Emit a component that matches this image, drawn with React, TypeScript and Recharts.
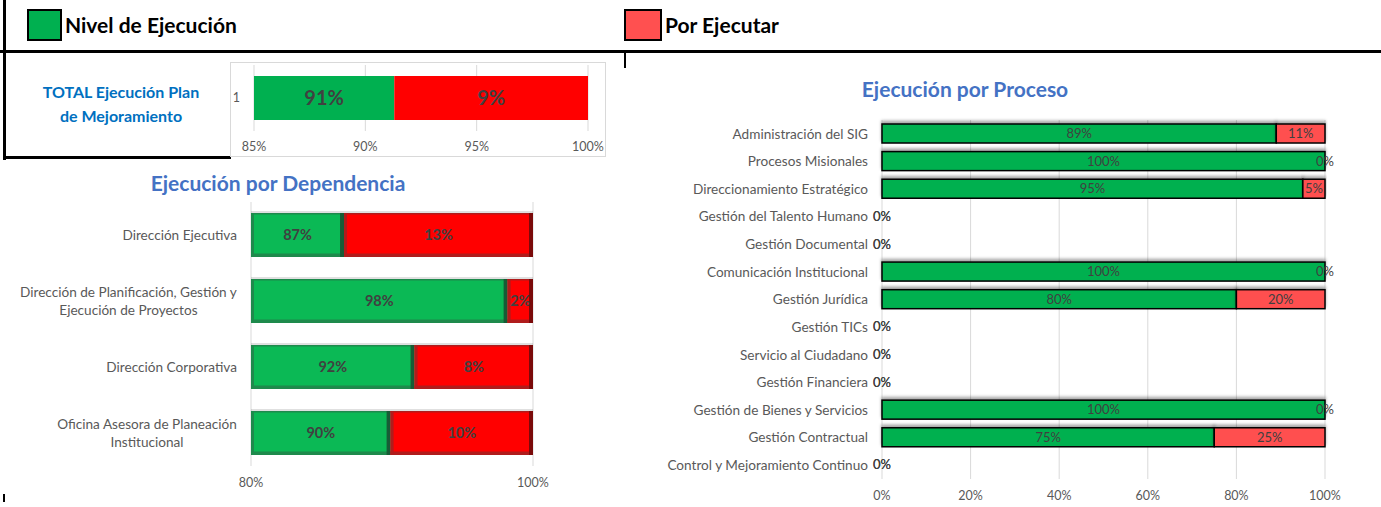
import React from 'react';
import { BarChart, Bar, XAxis, YAxis, CartesianGrid, LabelList } from 'recharts';

const FONT = 'Lato, "Open Sans", sans-serif';

// total plan
const totalCategory = ['1'];
const totalDone = [91.3];
const totalPending = [8.7];
const totalTicks = [85, 90, 95, 100];

// by dependency
const depCategories = [
  'Dirección Ejecutiva',
  'Dirección de Planificación, Gestión y Ejecución de Proyectos',
  'Dirección Corporativa',
  'Oficina Asesora de Planeación Institucional',
];
const depDone = [86.6, 98.2, 91.6, 89.9];
const depPending = [13.4, 1.8, 8.4, 10.1];
const depTicks = [80, 100];

// by process
const procCategories = [
  'Administración del SIG',
  'Procesos Misionales',
  'Direccionamiento Estratégico',
  'Gestión del Talento Humano',
  'Gestión Documental',
  'Comunicación Institucional',
  'Gestión Jurídica',
  'Gestión TICs',
  'Servicio al Ciudadano',
  'Gestión Financiera',
  'Gestión de Bienes y Servicios',
  'Gestión Contractual',
  'Control y Mejoramiento Continuo',
];
const procDone = [89, 100, 95, 0, 0, 100, 80, 0, 0, 0, 100, 75, 0];
const procPending = [11, 0, 5, 0, 0, 0, 20, 0, 0, 0, 0, 25, 0];
const procTicks = [0, 20, 40, 60, 80, 100];

const totalData = totalCategory.map((name, i) => ({ name, done: totalDone[i], pending: totalPending[i] }));
const depData = depCategories.map((name, i) => ({ name, done: depDone[i], pending: depPending[i] }));
const procData = procCategories.map((name, i) => ({ name, done: procDone[i], pending: procPending[i] }));

const pct = (v: number) => `${Math.round(v)}%`;

let ctx: CanvasRenderingContext2D | null = null;
const measure = (s: string, font: string) => {
  if (!ctx) ctx = document.createElement('canvas').getContext('2d');
  if (!ctx) return s.length * 6;
  ctx.font = font;
  return ctx.measureText(s).width;
};

const wrap = (s: string, max: number) => {
  const lines: string[] = [];
  let cur = '';
  s.split(' ').forEach((w) => {
    const next = cur ? cur + ' ' + w : w;
    if (next.length > max && cur) {
      lines.push(cur);
      cur = w;
    } else cur = next;
  });
  if (cur) lines.push(cur);
  return lines;
};

const CAT_SIZE = 13.6;

const DepTick = ({ x, y, payload }: any) => {
  const lines = wrap(payload.value, 37);
  const w = Math.max(...lines.map((l) => measure(l, `${CAT_SIZE}px ${FONT}`)));
  const cx = x - w / 2;
  const lh = 18;
  const y0 = y - ((lines.length - 1) * lh) / 2;
  return (
    <text textAnchor="middle" fill="#595959" fontSize={CAT_SIZE} fontFamily={FONT}>
      {lines.map((l, i) => (
        <tspan key={i} x={cx} y={y0 + i * lh} dy="0.35em">
          {l}
        </tspan>
      ))}
    </text>
  );
};

// centred label of the part of the bar that is inside the plot
const clampLabel = (minX: number, size: number, weight: string) => (props: any) => {
  const vb = props.viewBox ?? props;
  const { x, y, width, height } = vb;
  const left = Math.max(x, minX);
  const cx = (left + x + width) / 2;
  return (
    <text
      x={cx}
      y={y + height / 2}
      dy="0.36em"
      textAnchor="middle"
      fill="#404040"
      fontSize={size}
      fontWeight={weight}
      fontFamily={FONT}
    >
      {pct(props.value)}
    </text>
  );
};

const FlatBar = (minX: number) => (props: any) => {
  const { x, y, width, height, fill } = props;
  const left = Math.max(x, minX);
  const w = x + width - left;
  if (w <= 0) return null;
  return <rect x={left} y={y} width={w} height={height} fill={fill} />;
};

const BevelBar = (minX: number, dark: string, mid: string) => (props: any) => {
  const { x, y, width, height, fill } = props;
  const left = Math.max(x, minX);
  const w = x + width - left;
  if (w <= 0) return null;
  return (
    <g>
      <rect x={left} y={y - 2} width={w} height={2} fill="#000" opacity={0.12} />
      <rect x={left} y={y} width={w} height={height} fill={fill} />
      <rect x={left} y={y} width={w} height={1.5} fill={mid} />
      <rect x={left} y={y + height - 3.5} width={w} height={3.5} fill={mid} />
      <rect x={left} y={y} width={Math.min(3, w)} height={height} fill={mid} />
      <rect x={x + width - Math.min(4, w)} y={y} width={Math.min(4, w)} height={height} fill={dark} />
    </g>
  );
};

const ProcBar = (props: any) => {
  const { x, y, width, height, fill } = props;
  if (!width || width <= 0) return null;
  return (
    <rect
      x={x}
      y={y}
      width={width}
      height={height}
      fill={fill}
      stroke="#000"
      strokeWidth={1.5}
      filter="url(#procShadow)"
    />
  );
};

const abs = (left: number, top: number, extra: React.CSSProperties = {}): React.CSSProperties => ({
  position: 'absolute',
  left,
  top,
  ...extra,
});

const tickStyle = { fill: '#595959', fontSize: 12.5, fontFamily: FONT };

export default function App() {
  return (
    <div
      style={{
        position: 'absolute',
        left: 0,
        top: 0,
        width: 1381,
        height: 507,
        background: '#fff',
        fontFamily: FONT,
        overflow: 'hidden',
      }}
    >
      <svg width={0} height={0} style={{ position: 'absolute' }}>
        <defs>
          <filter id="procShadow" x="-5%" y="-60%" width="110%" height="220%">
            <feDropShadow dx={0} dy={-2.5} stdDeviation={1.6} floodColor="#000" floodOpacity={0.35} />
          </filter>
        </defs>
      </svg>

      {/* frame lines */}
      <div style={abs(3, 0, { width: 3, height: 160, background: '#000' })} />
      <div style={abs(0, 50, { width: 1381, height: 3, background: '#000' })} />
      <div style={abs(3, 156, { width: 228, height: 3, background: '#000' })} />
      <div style={abs(624, 50, { width: 2, height: 18, background: '#000' })} />
      <div style={abs(3, 494, { width: 2, height: 8, background: '#000' })} />

      {/* legend */}
      <div style={abs(27, 9, { width: 31, height: 28, background: '#00b050', border: '2px solid #000' })} />
      <div style={abs(65, 10, { fontSize: 21, fontWeight: 700, color: '#000', lineHeight: '30px' })}>
        Nivel de Ejecución
      </div>
      <div style={abs(624, 9, { width: 34, height: 28, background: '#ff5050', border: '2px solid #000' })} />
      <div style={abs(665, 10, { fontSize: 21, fontWeight: 700, color: '#000', lineHeight: '30px' })}>
        Por Ejecutar
      </div>

      {/* total */}
      <div
        style={abs(20, 80, {
          width: 202,
          textAlign: 'center',
          fontSize: 16,
          fontWeight: 700,
          color: '#0070c0',
          lineHeight: '24px',
        })}
      >
        TOTAL Ejecución Plan
        <br />
        de Mejoramiento
      </div>
      <div style={abs(230, 62, { width: 376, height: 95, border: '1px solid #d9d9d9', boxSizing: 'border-box', background: '#fff' })}>
        <BarChart
          width={374}
          height={93}
          data={totalData}
          layout="vertical"
          margin={{ top: 2, right: 17, bottom: 0, left: 0 }}
          barSize={44}
        >
          <CartesianGrid horizontal={false} stroke="#d9d9d9" />
          <XAxis
            type="number"
            domain={[85, 100]}
            ticks={totalTicks}
            allowDataOverflow
            tickFormatter={(v) => `${v}%`}
            tickLine={false}
            axisLine={false}
            tick={tickStyle}
            tickMargin={5}
            height={25}
          />
          <YAxis
            type="category"
            dataKey="name"
            width={23}
            tickLine={false}
            axisLine={false}
            tick={tickStyle}
            tickMargin={8}
          />
          <Bar dataKey="done" stackId="t" fill="#00b050" isAnimationActive={false} shape={FlatBar(23)}>
            <LabelList dataKey="done" content={clampLabel(23, 20, '700')} />
          </Bar>
          <Bar dataKey="pending" stackId="t" fill="#ff0000" isAnimationActive={false} shape={FlatBar(23)}>
            <LabelList dataKey="pending" content={clampLabel(23, 20, '700')} />
          </Bar>
        </BarChart>
      </div>

      {/* by dependency */}
      <div style={abs(0, 169, { width: 556, textAlign: 'center', fontSize: 21, fontWeight: 700, color: '#4472c4', lineHeight: '28px' })}>
        Ejecución por Dependencia
      </div>
      <div style={abs(0, 195)}>
        <BarChart
          width={560}
          height={305}
          data={depData}
          layout="vertical"
          margin={{ top: 7, right: 27, bottom: 0, left: 0 }}
          barSize={44}
        >
          <CartesianGrid horizontal={false} stroke="#d9d9d9" />
          <XAxis
            type="number"
            domain={[80, 100]}
            ticks={depTicks}
            allowDataOverflow
            tickFormatter={(v) => `${v}%`}
            tickLine={false}
            axisLine={false}
            tick={tickStyle}
            tickMargin={6}
            height={34}
          />
          <YAxis
            type="category"
            dataKey="name"
            width={251}
            tickLine={false}
            axisLine={false}
            tick={<DepTick />}
            tickMargin={8}
            interval={0}
          />
          <Bar dataKey="done" stackId="d" fill="#0bb955" isAnimationActive={false} shape={BevelBar(251, '#175c36', '#1e8a4c')}>
            <LabelList dataKey="done" content={clampLabel(251, 14.5, '700')} />
          </Bar>
          <Bar dataKey="pending" stackId="d" fill="#ff0000" isAnimationActive={false} shape={BevelBar(251, '#7a0a0a', '#b01c1c')}>
            <LabelList dataKey="pending" content={clampLabel(251, 14.5, '700')} />
          </Bar>
        </BarChart>
      </div>

      {/* by process */}
      <div style={abs(765, 75, { width: 400, textAlign: 'center', fontSize: 21, fontWeight: 700, color: '#4472c4', lineHeight: '28px' })}>
        Ejecución por Proceso
      </div>
      <div style={abs(630, 110)}>
        <BarChart
          width={740}
          height={397}
          data={procData}
          layout="vertical"
          margin={{ top: 10, right: 45, bottom: 0, left: 0 }}
          barSize={19}
        >
          <CartesianGrid horizontal={false} stroke="#d9d9d9" />
          <XAxis
            type="number"
            domain={[0, 100]}
            ticks={procTicks}
            tickFormatter={(v) => `${v}%`}
            tickLine={false}
            axisLine={false}
            tick={tickStyle}
            tickMargin={6}
            height={28}
          />
          <YAxis
            type="category"
            dataKey="name"
            width={252}
            tickLine={false}
            axisLine={false}
            tick={{ fill: '#595959', fontSize: CAT_SIZE, fontFamily: FONT }}
            tickMargin={8}
            interval={0}
          />
          <Bar dataKey="done" stackId="p" fill="#00b050" isAnimationActive={false} shape={ProcBar}>
            <LabelList dataKey="done" position="center" formatter={(v: any) => pct(Number(v))} fill="#404040" fontSize={13} fontFamily={FONT} />
          </Bar>
          <Bar dataKey="pending" stackId="p" fill="#ff5050" isAnimationActive={false} shape={ProcBar}>
            <LabelList dataKey="pending" position="center" formatter={(v: any) => pct(Number(v))} fill="#404040" fontSize={13} fontFamily={FONT} />
          </Bar>
        </BarChart>
      </div>
    </div>
  );
}
